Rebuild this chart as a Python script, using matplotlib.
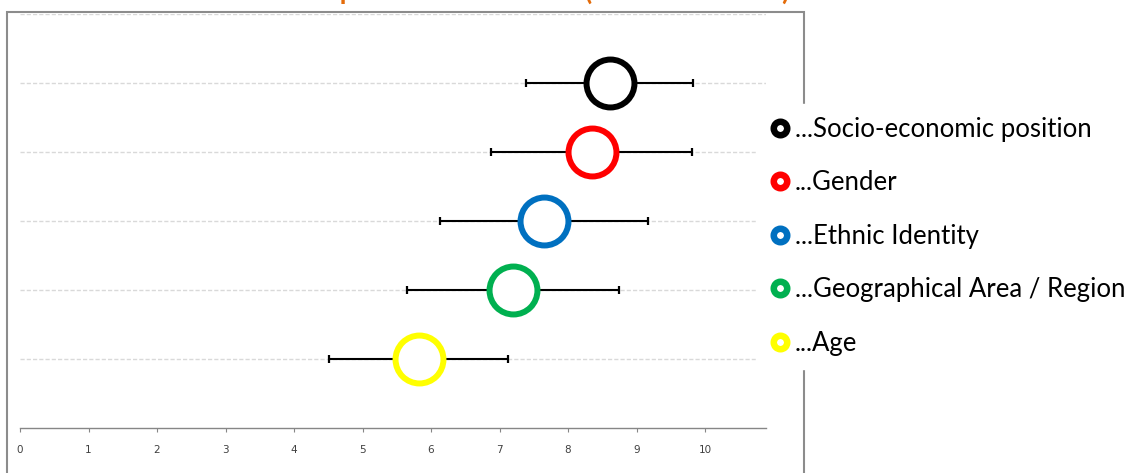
import numpy as np
import matplotlib
matplotlib.use("Agg")
import matplotlib.pyplot as plt
from matplotlib.lines import Line2D
from matplotlib.patches import Rectangle

labels = ["...Socio-economic position", "...Gender", "...Ethnic Identity",
          "...Geographical Area / Region", "...Age"]
means = [8.61, 8.35, 7.65, 7.19, 5.82]
lows = [7.39, 6.88, 6.13, 5.65, 4.51]
highs = [9.83, 9.81, 9.17, 8.74, 7.12]
colors = ["#000000", "#ff0000", "#0070c0", "#00b050", "#ffff00"]
xticks = list(range(0, 11))
title = "Mean score of each importance dimension (on 0 to 10 scale)"

W, H = 1132, 473
fig = plt.figure(figsize=(W / 100, H / 100), dpi=100, facecolor="white")

# outer chart frame (runs off the bottom of the picture)
fig.add_artist(Rectangle((7 / W, -0.1), (804 - 7) / W, (H - 12) / H + 0.1,
                         transform=fig.transFigure, fill=False,
                         edgecolor="#8c8c8c", linewidth=1.5, zorder=0.5))

ax = fig.add_axes([20 / W, 45 / H, (766 - 20) / W, (428 - 14) / H])
ax.set_facecolor("none")
ypos = np.arange(len(labels), 0, -1)
ax.set_xlim(0, 10.89)
ax.set_ylim(0, len(labels) + 1)

for y in range(1, len(labels) + 2):
    ax.axhline(y, color="#d9d9d9", linewidth=1, linestyle=(0, (3, 1.5)), zorder=0)

m = np.array(means)
err = [m - np.array(lows), np.array(highs) - m]
ax.errorbar(m, ypos, xerr=err, fmt="none", ecolor="black", elinewidth=1.5,
            capsize=3, capthick=1.6, zorder=2)
for x, y, c in zip(means, ypos, colors):
    ax.plot(x, y, "o", ms=34.5, mfc="white", mec=c, mew=4.3, zorder=3)

ax.set_xticks(xticks)
ax.set_yticks([])
for s in ["left", "right", "top"]:
    ax.spines[s].set_visible(False)
ax.spines["bottom"].set_color("#868686")
ax.spines["bottom"].set_linewidth(1)
ax.tick_params(axis="x", direction="out", length=3, width=0.8, color="#868686",
               labelsize=7.5, labelcolor="#404040", pad=9)

handles = [Line2D([], [], linestyle="none", marker="o", ms=9.7, mfc="white",
                  mec=c, mew=4.7) for c in colors]
leg = fig.legend(handles, labels, loc="upper left",
                 bbox_to_anchor=(756 / W, 1 - 104 / H), borderaxespad=0,
                 frameon=True, facecolor="white", edgecolor="white", framealpha=1,
                 fancybox=False, prop={"family": "Lato", "size": 18.5},
                 borderpad=0.5, handlelength=0.83, handletextpad=0.19,
                 labelspacing=1.11)
leg.set_zorder(5)

# title sits mostly above the picture; only its descenders show
fig.text(68 / W, 1.0, title, ha="left", va="baseline", color="#e46c0a",
         fontsize=19.5, fontweight="bold", family="Lato")

plt.savefig("out.png", dpi=100, facecolor="white")
